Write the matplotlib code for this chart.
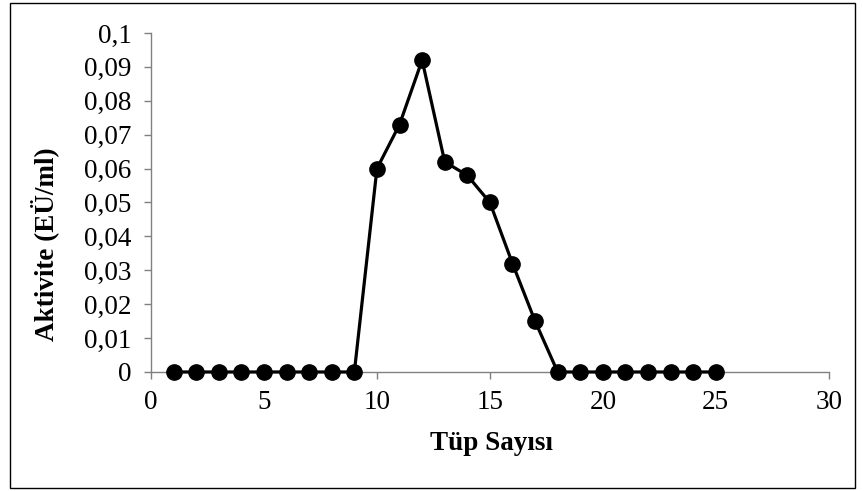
import numpy as np
import matplotlib.pyplot as plt
from matplotlib.patches import Rectangle

plt.rcParams['font.family'] = ['Liberation Serif', 'DejaVu Serif']

tube = list(range(1, 26))
activity = [0, 0, 0, 0, 0, 0, 0, 0, 0,
            0.060, 0.073, 0.092, 0.062, 0.058, 0.050, 0.032, 0.015,
            0, 0, 0, 0, 0, 0, 0, 0]
xticks = [0, 5, 10, 15, 20, 25, 30]
yticks = np.round(np.arange(0, 0.101, 0.01), 2)

fig = plt.figure(figsize=(8.66, 4.91), dpi=100)
ax = fig.add_axes([0.1744, 0.2424, 0.7826, 0.6904])

ax.plot(tube, activity, color='black', lw=2.3, marker='o', ms=11, clip_on=False, zorder=3)

ax.set_xlim(0, 30)
ax.set_ylim(0, 0.1)
ax.set_xticks(xticks)
ax.set_yticks(yticks)
ax.set_yticklabels(['0' if v == 0 else ('%g' % v).replace('.', ',') for v in yticks])
ax.tick_params(labelsize=19.5, length=5, color='#808080', width=1)
ax.tick_params(axis='y', pad=9)
ax.tick_params(axis='x', pad=8)
for s in ['top', 'right']:
    ax.spines[s].set_visible(False)
for s in ['left', 'bottom']:
    ax.spines[s].set_color('#808080')
    ax.spines[s].set_linewidth(1)

ax.set_xlabel('Tüp Sayısı', fontsize=19.5, fontweight='bold')
ax.set_ylabel('Aktivite (EÜ/ml)', fontsize=19.5, fontweight='bold')
ax.xaxis.set_label_coords(0.503, -0.175)
ax.yaxis.set_label_coords(-0.136, 0.378)

fig.patches.append(Rectangle((10/866, 3/491), 845/866, 485/491, transform=fig.transFigure,
                             fill=False, edgecolor='black', lw=1))

fig.savefig('out.png', dpi=100)
